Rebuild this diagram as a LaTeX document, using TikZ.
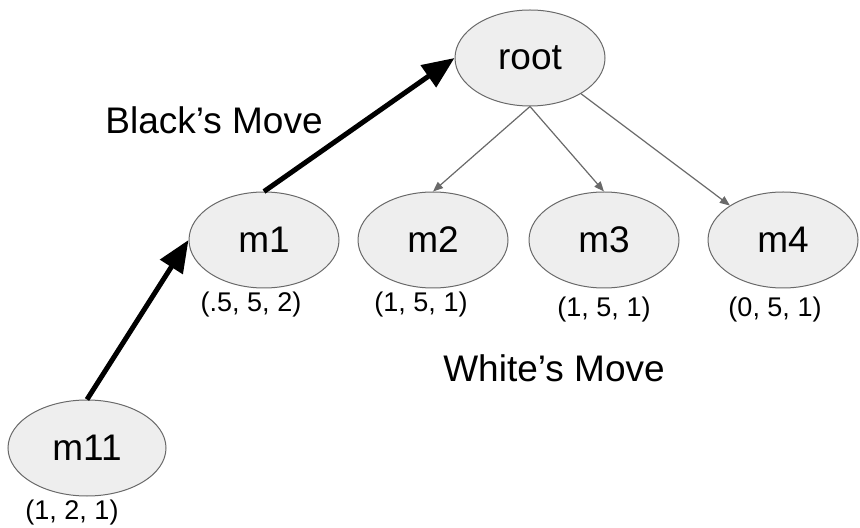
\documentclass[tikz,border=0pt]{standalone}
\usepackage{fontspec}
\setmainfont{Liberation Sans}
\usetikzlibrary{shapes.geometric,arrows.meta,positioning}
\definecolor{nodegray}{RGB}{238,238,238}
\definecolor{edgegray}{RGB}{105,105,105}

\begin{document}
\begin{tikzpicture}[x=0.5pt, y=-0.5pt,
    move/.style={draw=edgegray, fill=nodegray, ellipse, line width=0.5pt,
        minimum width=75pt, minimum height=48pt, inner sep=0pt,
        font=\fontsize{18.5}{21}\selectfont},
    score/.style={font=\fontsize{13.5}{15}\selectfont},
    side/.style={font=\fontsize{18.5}{22}\selectfont},
    bigarrow/.style={-{Triangle[length=16pt, width=13pt]}, line width=2.5pt, black},
    smallarrow/.style={-{Triangle[length=5pt, width=4pt]}, line width=0.6pt, edgegray}]
    \useasboundingbox (0,0) rectangle (860,528);

    % Moves
    \node[move] (root) at (530,58) {root};
    \node[move] (m1) at (264,240) {m1};
    \node[move] (m2) at (433,240) {m2};
    \node[move] (m3) at (604,240) {m3};
    \node[move] (m4) at (783,240) {m4};
    \node[move, minimum width=79pt] (m11) at (87,448) {m11};

    % Scores
    \node[score] (s1) at (251,305) {(.5, 5, 2)};
    \node[score] (s2) at (421,305) {(1, 5, 1)};
    \node[score] (s3) at (604,310) {(1, 5, 1)};
    \node[score] (s4) at (775,310) {(0, 5, 1)};
    \node[score] (s11) at (72,513) {(1, 2, 1)};

    % Connections
    \draw[bigarrow] (m11.north) -- (m1.west);
    \draw[bigarrow] (m1.north) -- (root.west);
    \draw[smallarrow] (root.south) -- (m2.north);
    \draw[smallarrow] (root.south) -- (m3.north);
    \draw[smallarrow] (root.-35) -- (m4.147);

    % Labels
    \node[side] (black) at (214,120) {Black’s Move};
    \node[side] (white) at (554,368) {White’s Move};
\end{tikzpicture}
\end{document}
